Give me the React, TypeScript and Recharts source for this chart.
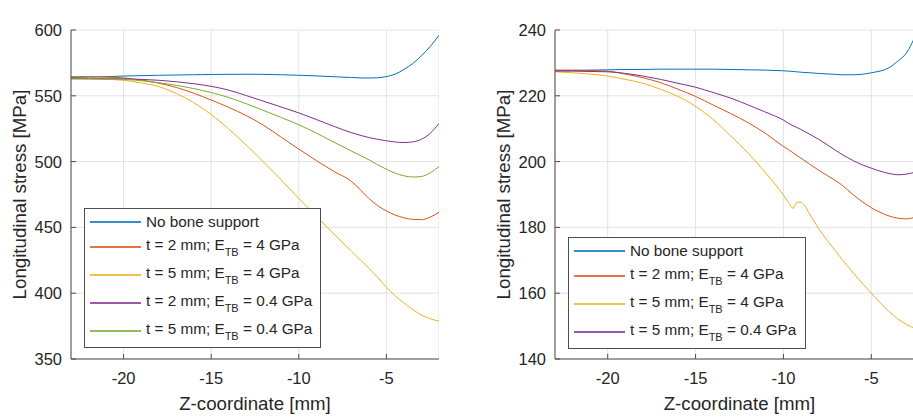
import React from 'react';
import { CartesianGrid, Legend, Line, LineChart, XAxis, YAxis } from 'recharts';

const FONT = '"Liberation Sans", Arial, Helvetica, sans-serif';
const AXIS = '#4d4d4d';
const TEXT = '#262626';
const GRID = '#e3e3e3';

// ---- LC1 ----
const zLC1 = [-23, -22, -21, -20, -19, -18, -17, -16, -15, -14, -13, -12, -11, -10, -9, -8, -7, -6.5, -6, -5.5, -5, -4.5, -4, -3.5, -3, -2.5, -2];
const lc1NoBone = [564, 564.2, 564.5, 565, 565.3, 565.6, 565.8, 566, 566.2, 566.3, 566.4, 566.3, 566, 565.6, 565.1, 564.5, 563.9, 563.6, 563.5, 563.7, 564.6, 566.5, 570, 574.5, 580.5, 587.5, 596];
const lc1T2E4 = [564.5, 564.5, 564.2, 563.6, 562, 559.6, 556.4, 552, 546.8, 541.2, 535, 527.5, 518.5, 509.5, 500.8, 492.6, 485, 478.8, 472, 466.5, 462.5, 459.4, 457.3, 456.1, 455.9, 457.8, 461.5];
const lc1T5E4 = [563, 562.8, 562.5, 561.8, 559.8, 557, 551.8, 544.8, 535.8, 524.8, 512.5, 499.5, 486, 472, 458.5, 445, 432, 425.5, 419, 412, 404.5, 398, 392.5, 387.6, 383.4, 380.6, 378.8];
const lc1T2E04 = [563, 563, 563, 562.9, 562.5, 561.8, 560.7, 559.2, 557.2, 554.3, 550.2, 545.8, 541.5, 537, 532, 526.8, 522, 520, 518.3, 516.9, 515.8, 514.9, 514.5, 515, 517, 521.5, 529];
const lc1T5E04 = [563, 563, 562.8, 562.5, 561.5, 560, 558, 555.5, 552.5, 548.7, 544, 538.8, 533.5, 528, 521.7, 514.8, 508, 504.7, 501.4, 497.6, 494.2, 491.2, 489.2, 488.3, 488.7, 491.5, 496.2];
const lc1YTicks = [350, 400, 450, 500, 550, 600];

// ---- LC2 ----
const zLC2 = [-23, -22, -21, -20, -19, -18, -17, -16, -15, -14, -13, -12, -11, -10, -9.7, -9.45, -9.25, -9.05, -8.85, -8.5, -8, -7, -6.7, -6, -5, -4, -3.5, -3, -2.5, -2];
const lc2NoBone = [227.7, 227.7, 227.8, 227.9, 228, 228, 228.1, 228.1, 228.1, 228.1, 228, 227.9, 227.8, 227.6, 227.5, 227.4, 227.3, 227.2, 227.1, 227, 226.8, 226.5, 226.4, 226.4, 227, 228.5, 230.5, 233, 238, 243];
const lc2T2E4 = [227.8, 227.8, 227.7, 227.5, 226.6, 225.5, 224, 222, 219.8, 217.2, 214.6, 211.8, 208.5, 204.6, 203.6, 202.7, 201.9, 201.2, 200.5, 199.2, 197.4, 194.1, 193, 189.8, 186, 183.5, 182.8, 182.6, 183.1, 184];
const lc2T5E4 = [227.3, 227, 226.6, 226, 225, 223.8, 222, 219.8, 216.8, 212.8, 207.8, 202.5, 196.5, 189.8, 187.5, 185.8, 187.5, 187.7, 187, 184, 179.7, 172.6, 170.5, 166, 160, 154.5, 152.2, 150.5, 149.3, 148.5];
const lc2T5E04 = [227.5, 227.5, 227.4, 227.3, 226.8, 226, 225, 223.8, 222.6, 221, 219.3, 217.2, 215, 212.6, 211.6, 210.9, 210.4, 209.9, 209.3, 208.3, 206.8, 203.3, 202.3, 200.2, 198, 196.4, 196, 196.2, 196.8, 197.8];
const lc2YTicks = [140, 160, 180, 200, 220, 240];

const xTicks = [-20, -15, -10, -5];
const xDomain: [number, number] = [-23, -2];

const lc1Data = zLC1.map((z, i) => ({
  z,
  noBone: lc1NoBone[i],
  t2e4: lc1T2E4[i],
  t5e4: lc1T5E4[i],
  t2e04: lc1T2E04[i],
  t5e04: lc1T5E04[i],
}));

const lc2Data = zLC2.map((z, i) => ({
  z,
  noBone: lc2NoBone[i],
  t2e4: lc2T2E4[i],
  t5e4: lc2T5E4[i],
  t5e04: lc2T5E04[i],
}));

type Entry = { key: string; color: string; text: string; sub?: string; post?: string };

const NO_BONE: Entry = { key: 'noBone', color: '#0072BD', text: 'No bone support' };
const T2E4: Entry = { key: 't2e4', color: '#D95319', text: 't = 2 mm; E', sub: 'TB', post: ' = 4 GPa' };
const T5E4: Entry = { key: 't5e4', color: '#EDB120', text: 't = 5 mm; E', sub: 'TB', post: ' = 4 GPa' };
const T2E04: Entry = { key: 't2e04', color: '#7E2F8E', text: 't = 2 mm; E', sub: 'TB', post: ' = 0.4 GPa' };
const T5E04G: Entry = { key: 't5e04', color: '#77AC30', text: 't = 5 mm; E', sub: 'TB', post: ' = 0.4 GPa' };
const T5E04P: Entry = { key: 't5e04', color: '#7E2F8E', text: 't = 5 mm; E', sub: 'TB', post: ' = 0.4 GPa' };

const lc1Series = [NO_BONE, T2E4, T5E4, T2E04, T5E04G];
const lc2Series = [NO_BONE, T2E4, T5E4, T5E04P];

function LegendBox({ items, width }: { items: Entry[]; width: number }) {
  return (
    <div
      style={{
        width,
        boxSizing: 'border-box',
        border: `1px solid ${AXIS}`,
        background: '#fff',
        padding: '2px 0',
        fontFamily: FONT,
        fontSize: 15.3,
        color: TEXT,
      }}
    >
      {items.map((it, i) => (
        <div key={i} style={{ display: 'flex', alignItems: 'center', height: i === 0 ? 22 : 28 }}>
          <div style={{ width: 51, height: 2, marginLeft: 5, marginRight: 5, flex: 'none', background: it.color, opacity: 0.8 }} />
          <span style={{ whiteSpace: 'nowrap', lineHeight: 1, position: 'relative', top: it.sub ? -2 : 0 }}>
            {it.text}
            {it.sub && <span style={{ fontSize: 11, position: 'relative', top: 6 }}>{it.sub}</span>}
            {it.post}
          </span>
        </div>
      ))}
    </div>
  );
}

const BottomTick = (p: any) => (
  <g>
    <line x1={p.x} y1={p.y} x2={p.x} y2={p.y - 5} stroke={AXIS} />
    <text x={p.x} y={p.y + 25} textAnchor="middle" fill={TEXT} fontSize={16.5} fontFamily={FONT}>
      {p.payload.value}
    </text>
  </g>
);
const LeftTick = (p: any) => (
  <g>
    <line x1={p.x} y1={p.y} x2={p.x + 5} y2={p.y} stroke={AXIS} />
    <text x={p.x - 9} y={p.y + 6} textAnchor="end" fill={TEXT} fontSize={16.5} fontFamily={FONT}>
      {p.payload.value}
    </text>
  </g>
);
const TopTick = (p: any) => <line x1={p.x} y1={p.y} x2={p.x} y2={p.y + 5} stroke={AXIS} />;
const RightTick = (p: any) => <line x1={p.x} y1={p.y} x2={p.x - 5} y2={p.y} stroke={AXIS} />;

function Panel(props: {
  title: string;
  data: any[];
  series: Entry[];
  yDomain: [number, number];
  yTicks: number[];
  width: number;
  yAxisWidth: number;
  legendLeft: number;
  legendTop: number;
  legendWidth: number;
}) {
  const { title, data, series, yDomain, yTicks, width, yAxisWidth, legendLeft, legendTop, legendWidth } = props;
  return (
    <LineChart width={width} height={417} data={data} margin={{ top: 30, right: 1, bottom: 0, left: 0 }}>
      <CartesianGrid stroke={GRID} />
      <XAxis
        dataKey="z"
        type="number"
        domain={xDomain}
        ticks={xTicks}
        interval={0}
        allowDataOverflow
        height={58}
        stroke={AXIS}
        tickSize={0}
        tickMargin={0}
        tickLine={false}
        tick={BottomTick}
        label={(p: any) => {
          const vb = p.viewBox || {};
          return (
            <text x={vb.x + vb.width / 2} y={vb.y + 51} textAnchor="middle" fill={TEXT} fontSize={18.7} fontFamily={FONT}>
              Z-coordinate [mm]
            </text>
          );
        }}
      />
      <XAxis
        xAxisId="top"
        orientation="top"
        dataKey="z"
        type="number"
        domain={xDomain}
        ticks={xTicks}
        interval={0}
        allowDataOverflow
        height={0}
        stroke={AXIS}
        tickSize={0}
        tickMargin={0}
        tickLine={false}
        tick={TopTick}
        label={(p: any) => {
          const vb = p.viewBox || {};
          return (
            <text x={vb.x + vb.width / 2} y={vb.y - 8} textAnchor="middle" fill="#000" fontWeight="bold" fontSize={17.5} fontFamily={FONT}>
              {title}
            </text>
          );
        }}
      />
      <YAxis
        type="number"
        domain={yDomain}
        ticks={yTicks}
        interval={0}
        allowDataOverflow
        width={yAxisWidth}
        stroke={AXIS}
        tickSize={0}
        tickMargin={0}
        tickLine={false}
        tick={LeftTick}
        label={(p: any) => {
          const vb = p.viewBox || {};
          const x = vb.x + vb.width - 45;
          const y = vb.y + vb.height / 2;
          return (
            <text x={x} y={y} transform={`rotate(-90, ${x}, ${y})`} textAnchor="middle" fill={TEXT} fontSize={18.7} fontFamily={FONT}>
              Longitudinal stress [MPa]
            </text>
          );
        }}
      />
      <YAxis
        yAxisId="right"
        orientation="right"
        type="number"
        domain={yDomain}
        ticks={yTicks}
        interval={0}
        allowDataOverflow
        width={0}
        axisLine={false}
        tickSize={0}
        tickMargin={0}
        tickLine={false}
        tick={RightTick}
      />
      <Legend
        layout="vertical"
        align="center"
        verticalAlign="middle"
        wrapperStyle={{ left: legendLeft, top: legendTop, width: legendWidth, height: 'auto' }}
        content={() => <LegendBox items={series} width={legendWidth} />}
      />
      {series.map((s) => (
        <Line
          key={s.key}
          dataKey={s.key}
          type="monotone"
          stroke={s.color}
          strokeWidth={1}
          dot={false}
          activeDot={false}
          isAnimationActive={false}
        />
      ))}
    </LineChart>
  );
}

export default function App() {
  return (
    <div
      style={{
        position: 'fixed',
        left: 0,
        top: 0,
        width: 913,
        height: 417,
        overflow: 'hidden',
        background: '#fff',
        fontFamily: FONT,
      }}
    >
      <div style={{ position: 'absolute', left: 0, top: 0, width: 439, height: 417, overflow: 'hidden' }}>
        <Panel
          title="LC1"
          data={lc1Data}
          series={lc1Series}
          yDomain={[350, 600]}
          yTicks={lc1YTicks}
          width={440}
          yAxisWidth={71}
          legendLeft={84}
          legendTop={208}
          legendWidth={237}
        />
      </div>
      <div style={{ position: 'absolute', left: 480, top: 0, width: 433, height: 417, overflow: 'hidden' }}>
        <Panel
          title="LC2"
          data={lc2Data}
          series={lc2Series}
          yDomain={[140, 240]}
          yTicks={lc2YTicks}
          width={445}
          yAxisWidth={75}
          legendLeft={88}
          legendTop={237}
          legendWidth={238}
        />
      </div>
    </div>
  );
}
